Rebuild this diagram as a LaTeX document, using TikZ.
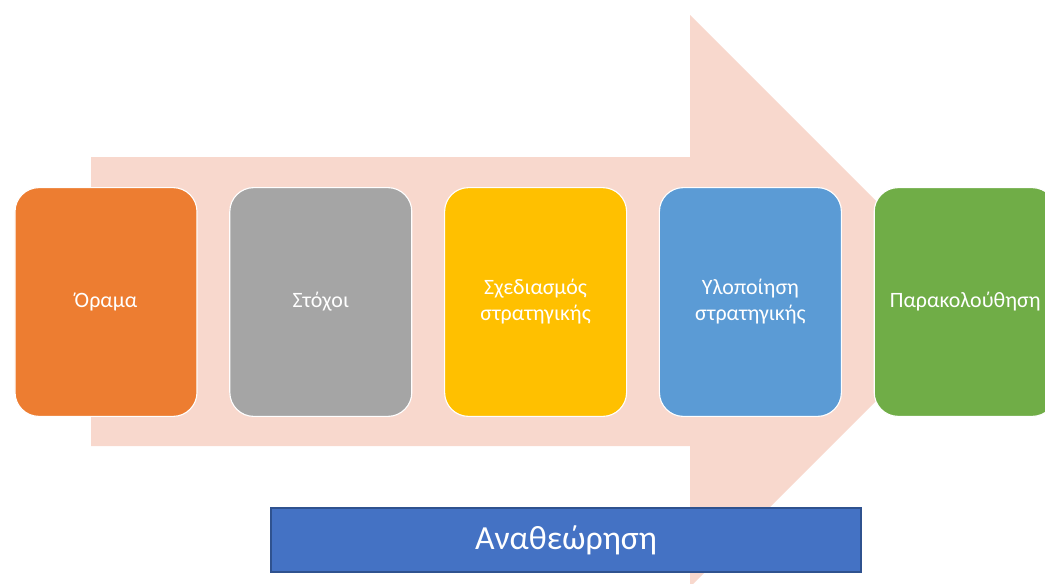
\documentclass[tikz,border=0pt]{standalone}
\usepackage{fontspec}
\setmainfont{Carlito}
\usepackage{tikz}
\usetikzlibrary{positioning}
\definecolor{arrowpink}{HTML}{F8D8CD}
\definecolor{orangebox}{HTML}{ED7D31}
\definecolor{graybox}{HTML}{A5A5A5}
\definecolor{goldbox}{HTML}{FFC000}
\definecolor{bluebox}{HTML}{5B9BD5}
\definecolor{greenbox}{HTML}{70AD47}
\definecolor{revfill}{HTML}{4472C4}
\definecolor{revline}{HTML}{2F528F}
\tikzset{
  stage/.style = {align=center, text centered, rounded corners=0.6cm,
    minimum width=4.55cm, minimum height=5.72cm, draw=white, outer sep=0pt,
    line width=0.8pt, text=white, font=\fontsize{15.6}{18.5}\selectfont},
  review/.style = {draw=revline, fill=revfill, line width=1pt,
    minimum width=14.75cm, minimum height=1.6cm, text=white,
    font=\fontsize{24}{28}\selectfont}
}

\begin{document}
\begin{tikzpicture}[node distance=0.82cm]
\clip (0,0) rectangle (26.125,-14.575);
% big arrow behind the stages
\fill[arrowpink] (2.275,-3.925) -- (17.25,-3.925) -- (17.25,-0.375)
  -- (24.4,-7.525) -- (17.25,-14.675) -- (17.25,-11.15)
  -- (2.275,-11.15) -- cycle;
\node [stage, fill=orangebox] (vision) at (2.65,-7.55) {Όραμα};
\node [stage, fill=graybox, right=of vision] (goals) {Στόχοι};
\node [stage, fill=goldbox, right=of goals] (design) {Σχεδιασμός\\στρατηγικής};
\node [stage, fill=bluebox, right=of design] (impl) {Υλοποίηση\\στρατηγικής};
\node [stage, fill=greenbox, right=of impl] (monitor) {Παρακολούθηση};
\node [review] (rev) at (14.15,-13.5) {Αναθεώρηση};
\end{tikzpicture}
\end{document}
